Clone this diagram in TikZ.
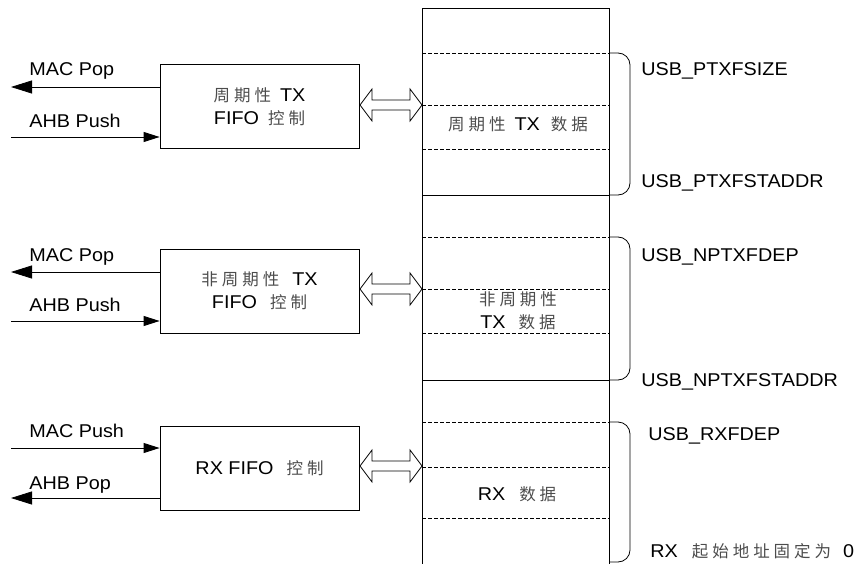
\documentclass[tikz,border=0pt]{standalone}
\usepackage{fontspec}
\setmainfont{Liberation Sans}[FakeStretch=1.07]
\newfontfamily\cjkfont[LetterSpace=24]{Noto Sans CJK SC}
\usetikzlibrary{arrows.meta}
\newcommand{\zh}[1]{{\cjkfont\fontsize{16.5pt}{23pt}\selectfont\color{black!70}#1}}
\newcommand{\gp}[1]{\hspace{#1pt}}
\begin{document}
\begin{tikzpicture}[x=1pt,y=-1pt, line width=0.8pt,
  every node/.style={font=\fontsize{18.5pt}{23pt}\selectfont, inner sep=0pt},
  fifobox/.style={draw, minimum width=199pt, minimum height=84pt, align=center},
  lbl/.style={anchor=base west},
  popar/.style={-{Triangle[length=21pt,width=13pt]}},
  pushar/.style={-{Triangle[length=16pt,width=10pt]}},
  sepline/.style={dash pattern=on 3.5pt off 2.5pt, line width=0.6pt},
  bracket/.style={rounded corners=12pt},
  dbl/.style={draw, line width=0.8pt, fill=white}]
\useasboundingbox (0,0) rectangle (861,564);

% FIFO control boxes
\node[fifobox] (b1) at (259.5,106.5) {\zh{周期性}\gp{9}TX\\FIFO\gp{9}\zh{控制}};
\node[fifobox] (b2) at (259.5,291) {\zh{非周期性}\gp{13}TX\\FIFO\gp{13}\zh{控制}};
\node[fifobox] (b3) at (259.5,468) {RX FIFO\gp{13}\zh{控制}};

% left arrows
\coordinate (l1) at (11,87);
\coordinate (l2) at (11,137);
\coordinate (l3) at (11,272);
\coordinate (l4) at (11,321);
\coordinate (l5) at (11,448);
\coordinate (l6) at (11,498);
\draw[popar] (b1.west |- l1) -- (l1);
\draw[pushar] (l2) -- (b1.west |- l2);
\draw[popar] (b2.west |- l3) -- (l3);
\draw[pushar] (l4) -- (b2.west |- l4);
\draw[pushar] (l5) -- (b3.west |- l5);
\draw[popar] (b3.west |- l6) -- (l6);

\node[lbl] (t1) at (29,76) {MAC Pop};
\node[lbl] (t2) at (29,127.3) {AHB Push};
\node[lbl] (t3) at (29,261) {MAC Pop};
\node[lbl] (t4) at (29,311.7) {AHB Push};
\node[lbl] (t5) at (29,437.3) {MAC Push};
\node[lbl] (t6) at (29,489.3) {AHB Pop};

% memory column
\coordinate (mtl) at (422,8);
\coordinate (mtr) at (609,8);
\draw (422,566) -- (mtl) -- (mtr) -- (609,566);
\foreach \yy in {53,105,149,237,289,333,422,467,518}
  \draw[sepline] (422,\yy) -- (609,\yy);
\draw (422,195) -- (609,195);
\draw (422,380) -- (609,380);

% double arrows
\foreach \cy in {105,289,466}
  \draw[dbl, shift={(360,\cy)}] (0,0) -- (12,-16) -- (12,-5) -- (50,-5) -- (50,-16)
     -- (62,0) -- (50,16) -- (50,5) -- (12,5) -- (12,16) -- cycle;

% memory texts
\node[anchor=base] (m1) at (518,130.7) {\zh{周期性}\gp{9}TX\gp{11}\zh{数据}};
\node[anchor=base] (m2a) at (518,305.7) {\zh{非周期性}};
\node[anchor=base] (m2b) at (518,328.3) {TX\gp{13}\zh{数据}};
\node[anchor=base] (m3) at (517,500.7) {RX\gp{14}\zh{数据}};

% brackets
\draw[bracket] (609,53) -- (630,53) -- (630,195) -- (609,195);
\draw[bracket] (609,237) -- (630,237) -- (630,380) -- (609,380);
\draw[bracket] (609,422) -- (630,422) -- (630,562) -- (609,562);

% right labels
\node[lbl] (r1) at (641,76) {USB\_PTXFSIZE};
\node[lbl] (r2) at (641,187.3) {USB\_PTXFSTADDR};
\node[lbl] (r3) at (641,261) {USB\_NPTXFDEP};
\node[lbl] (r4) at (641,386.7) {USB\_NPTXFSTADDR};
\node[lbl] (r5) at (648,440) {USB\_RXFDEP};
\node[lbl] (r6) at (650,557) {RX\gp{14}\zh{起始地址固定为}\gp{12}0};
\end{tikzpicture}
\end{document}
